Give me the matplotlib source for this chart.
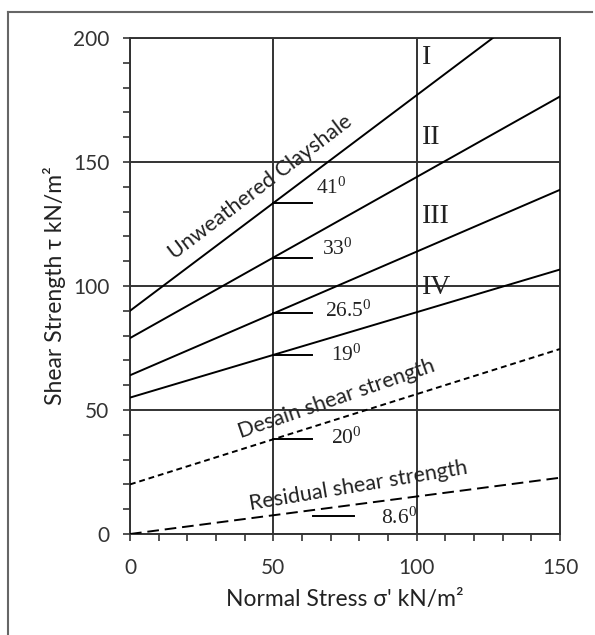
import numpy as np
import matplotlib
matplotlib.use('Agg')
import matplotlib.pyplot as plt
from matplotlib.lines import Line2D
from matplotlib.ticker import MultipleLocator

plt.rcParams['font.family'] = ['Lato', 'DejaVu Sans']

# strength envelopes: intercept (kN/m2) and friction angle (deg)
names = ['I', 'II', 'III', 'IV']
cohesion = [90, 79, 64, 55]
phi = [41, 33, 26.5, 19]
design_c, design_phi = 20, 20
resid_c, resid_phi = 0, 8.6

# where the angle labels go
phi_label_x = [65, 67, 68, 70]
phi_label_y = [139.5, 115, 90, 72]
phi_labels = ['41', '33', '26.5', '19']
roman_x = [102, 102, 102, 102]
roman_y = [192, 160, 128, 99.5]

sig = np.array([0, 150])

fig = plt.figure(figsize=(5.95, 6.35), dpi=100)
ax = fig.add_axes([130/595, 1 - 534/635, 430/595, 496/635])

lw = 1.4
for c, p in zip(cohesion, phi):
    ax.plot(sig, c + sig*np.tan(np.radians(p)), color='black', lw=lw, zorder=3)
ax.plot(sig, design_c + sig*np.tan(np.radians(design_phi)), color='black', lw=lw,
        dashes=(3, 2), zorder=3)
ax.plot(sig, resid_c + sig*np.tan(np.radians(resid_phi)), color='black', lw=lw,
        dashes=(6, 3), zorder=3)

# short horizontal reference marks for the angles
for c, p in zip(cohesion, phi):
    yv = c + 50*np.tan(np.radians(p))
    ax.plot([50, 63.5], [yv, yv], color='black', lw=lw, zorder=3)
yd = design_c + 50*np.tan(np.radians(design_phi))
ax.plot([50, 63.5], [yd, yd], color='black', lw=lw, zorder=3)
ax.plot([64, 78], [7.3, 7.3], color='black', lw=lw, zorder=3)

serif = ['Liberation Serif', 'DejaVu Serif']
fs_phi = 15.5
for lx, ly, t in zip(phi_label_x, phi_label_y, phi_labels):
    ax.text(lx, ly, t + r'$\mathregular{^0}$', fontsize=fs_phi, family=serif,
            ha='left', va='center', color='#222222')
ax.text(70, 38.5, '20' + r'$\mathregular{^0}$', fontsize=fs_phi, family=serif,
        ha='left', va='center', color='#222222')
ax.text(87.5, 6.5, '8.6' + r'$\mathregular{^0}$', fontsize=fs_phi, family=serif,
        ha='left', va='center', color='#222222')

for rx, ry, t in zip(roman_x, roman_y, names):
    ax.text(rx, ry, t, fontsize=20, family=serif, ha='left', va='center',
            color='#222222')

fs_lab = 15.5
ax.text(45.5, 140, 'Unweathered Clayshale', fontsize=fs_lab, rotation=37.2,
        ha='center', va='center', rotation_mode='anchor', color='#222222')
ax.text(72, 54.5, 'Desain shear strength', fontsize=fs_lab, rotation=19,
        ha='center', va='center', rotation_mode='anchor', color='#222222')
ax.text(79.5, 19.5, 'Residual shear strength', fontsize=fs_lab, rotation=9.5,
        ha='center', va='center', rotation_mode='anchor', color='#222222')

ax.set_xlim(0, 150)
ax.set_ylim(0, 200)
ax.xaxis.set_major_locator(MultipleLocator(50))
ax.xaxis.set_minor_locator(MultipleLocator(10))
ax.yaxis.set_major_locator(MultipleLocator(50))
ax.yaxis.set_minor_locator(MultipleLocator(10))
ax.grid(which='major', color='#333333', lw=1.4)
ax.set_axisbelow(True)
for s in ax.spines.values():
    s.set_color('#333333')
    s.set_linewidth(1.4)
ax.tick_params(which='both', direction='out', color='#333333', width=1.2)
ax.tick_params(which='major', length=5, labelsize=15, labelcolor='#333333')
ax.tick_params(which='minor', length=5)
ax.tick_params(axis='y', pad=10)
ax.tick_params(axis='x', pad=12)

ax.set_xlabel("Normal Stress σ' kN/m²", fontsize=16.5, color='#222222', labelpad=8)
ax.set_ylabel('Shear Strength τ kN/m²', fontsize=16.5, color='#222222')
ax.yaxis.set_label_coords(-0.148, 0.5)

# frame line on the left and top of the figure
fig.add_artist(Line2D([8/595, 8/595], [0, 1 - 12/635], color='#666666', lw=1.5))
fig.add_artist(Line2D([8/595, 592/595], [1 - 12/635, 1 - 12/635], color='#666666', lw=1.5))

fig.savefig('out.png', dpi=100)
